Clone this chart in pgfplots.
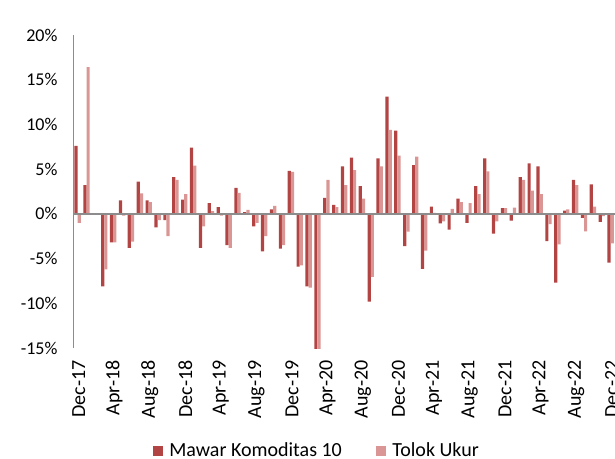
\documentclass[border=0pt]{standalone}
\usepackage{pgfplots}
\pgfplotsset{compat=1.18}
\usepackage{pgfplotstable}
\usepackage{fontspec}
\setmainfont{Carlito}
\definecolor{mawar}{RGB}{178,69,67}
\definecolor{tolok}{RGB}{217,150,148}
\definecolor{axgray}{RGB}{140,140,140}
\pgfplotstableread{
x y
0 7.6
1 3.2
2 -0.1
3 -8.1
4 -3.2
5 1.5
6 -3.8
7 3.6
8 1.5
9 -1.5
10 -0.7
11 4.1
12 1.6
13 7.4
14 -3.8
15 1.2
16 0.75
17 -3.5
18 2.9
19 0.2
20 -1.4
21 -4.2
22 0.5
23 -3.9
24 4.8
25 -5.9
26 -8.1
27 -15.5
28 1.8
29 1.0
30 5.3
31 6.3
32 3.1
33 -9.8
34 6.2
35 13.1
36 9.3
37 -3.6
38 5.45
39 -6.15
40 0.8
41 -1.05
42 -1.75
43 1.7
44 -1.0
45 3.1
46 6.2
47 -2.2
48 0.65
49 -0.75
50 4.1
51 5.65
52 5.3
53 -3.05
54 -7.7
55 0.35
56 3.8
57 -0.45
58 3.3
59 -0.9
60 -5.45
}\mawartab
\pgfplotstableread{
x y
0 -1.0
1 16.4
2 -0.1
3 -6.2
4 -3.2
5 -0.2
6 -3.1
7 2.3
8 1.3
9 -0.7
10 -2.5
11 3.8
12 2.2
13 5.4
14 -1.4
15 0.3
16 -0.2
17 -3.8
18 2.35
19 0.45
20 -1.0
21 -2.5
22 0.9
23 -3.5
24 4.7
25 -5.75
26 -8.25
27 -15.3
28 3.8
29 0.75
30 3.2
31 4.9
32 1.7
33 -7.05
34 5.3
35 9.4
36 6.5
37 -2.0
38 6.4
39 -4.1
40 0.1
41 -0.85
42 0.55
43 1.3
44 1.2
45 2.2
46 4.75
47 -0.85
48 0.65
49 0.7
50 3.8
51 2.6
52 2.2
53 -1.15
54 -3.4
55 0.5
56 3.2
57 -1.95
58 0.8
59 -0.25
60 -3.3
}\toloktab
\begin{document}
\begin{tikzpicture}
\useasboundingbox (-74pt,-110pt) rectangle (541pt,348pt);
\begin{axis}[
  at={(0,0)}, anchor=south west,
  scale only axis,
  width=541pt, height=313pt,
  xmin=-0.05, xmax=60.85,
  ymin=-15, ymax=20,
  ytick={-15,-10,...,20},
  yticklabel={\pgfmathprintnumber{\tick}\%},
  /pgf/number format/assume math mode=true,
  xtick={0.36,4.36,8.36,12.36,16.36,20.36,24.36,28.36,32.36,36.36,40.36,44.36,48.36,52.36,56.36,60.36},
  xticklabels={Dec-17,Apr-18,Aug-18,Dec-18,Apr-19,Aug-19,Dec-19,Apr-20,Aug-20,Dec-20,Apr-21,Aug-21,Dec-21,Apr-22,Aug-22,Dec-22},
  axis lines=left,
  x axis line style={draw=none, -},
  y axis line style={draw=axgray, line width=1pt, -},
  major tick length=0pt,
  y tick label style={font=\fontsize{18}{20}\selectfont, text=black, xshift=-13pt},
  x tick label style={font=\fontsize{20}{22}\selectfont, text=black, rotate=90, anchor=east, xshift=-9pt, yshift=-1pt},
  extra y ticks={0},
  extra y tick labels={},
  extra y tick style={grid=major, major grid style={draw=axgray, line width=1.6pt}},
  axis on top,
  ybar, bar width=0.36,
  legend columns=2,
  legend style={at={(0.447,-0.328)}, anchor=center, draw=none, fill=none,
    font=\fontsize{20}{22}\selectfont, nodes={inner sep=0pt},
    /tikz/every odd column/.append style={column sep=6.5pt},
    /tikz/every even column/.append style={column sep=34pt}},
]
\addplot[fill=mawar, draw=none, bar shift=0.18,
  legend image code/.code={\fill[mawar] (0pt,-5pt) rectangle (10pt,5pt);}] table[x=x,y=y] {\mawartab};
\addlegendentry{Mawar Komoditas 10}
\addplot[fill=tolok, draw=none, bar shift=0.54,
  legend image code/.code={\fill[tolok] (0pt,-5pt) rectangle (10pt,5pt);}] table[x=x,y=y] {\toloktab};
\addlegendentry{Tolok Ukur}
\end{axis}
\end{tikzpicture}
\end{document}
